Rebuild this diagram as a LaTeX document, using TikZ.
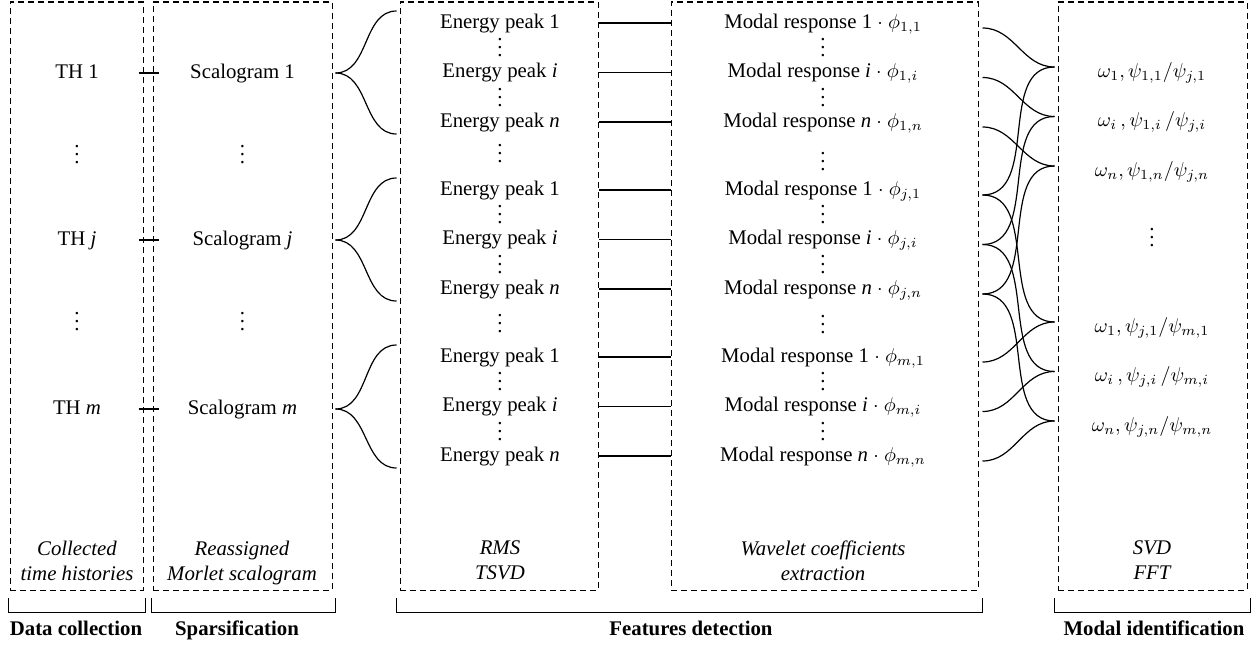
\documentclass[tikz,border=0pt]{standalone}
\usepackage{fontspec}
\setmainfont{Liberation Serif}
\usepackage{tikz}
\usetikzlibrary{positioning}
\newcommand{\rowdots}{\vbox{\baselineskip4pt\lineskiplimit0pt\hbox{.}\hbox{.}\hbox{.}}}
\tikzset{font=\fontsize{10.4}{12.5}\selectfont}
\tikzset{stage/.style={draw=black, dash pattern=on 3pt off 2pt, line width=0.5pt,
    inner sep=0pt, minimum height=294pt}}
\tikzset{entry/.style={text height=1.5ex, text depth=0.35ex}}
\tikzset{vdot/.style={inner sep=0pt}}
\tikzset{method/.style={align=center, anchor=north, font=\fontsize{10.4}{12.5}\selectfont\itshape}}
\tikzset{phase/.style={text height=1.5ex, text depth=0.35ex, font=\fontsize{10.4}{12.5}\selectfont\bfseries}}

\begin{document}
\begin{tikzpicture}[x=0.5pt, y=-0.5pt, on grid, node distance=24.75pt]
  \useasboundingbox (0,0) rectangle (1259,648);
  %Boxes
  \node[stage, minimum width=66.5pt] (b1) at (76.5,296) {};
  \node[stage, minimum width=89.5pt] (b2) at (242.5,296) {};
  \node[stage, minimum width=99pt] (b3) at (499,296) {};
  \node[stage, minimum width=153.5pt] (b4) at (824.5,296) {};
  \node[stage, minimum width=94.5pt] (b5) at (1152.5,296) {};
  %Nodes
  \node[entry] (th1) at (77,73) {TH 1};
  \node[vdot] (thd1) at (77,155) {\rowdots};
  \node[entry] (thj) at (77,240) {TH \textit{j}};
  \node[vdot] (thd2) at (77,322) {\rowdots};
  \node[entry] (thm) at (77,409) {TH \textit{m}};
  \node[entry] (sc1) [right=82.75pt of th1] {Scalogram 1};
  \node[vdot] (scd1) [right=82.75pt of thd1] {\rowdots};
  \node[entry] (scj) [right=82.75pt of thj] {Scalogram \textit{j}};
  \node[vdot] (scd2) [right=82.75pt of thd2] {\rowdots};
  \node[entry] (scm) [right=82.75pt of thm] {Scalogram \textit{m}};
  % energy peaks
  \node[entry] (ep11) at (500,23) {Energy peak 1};
  \node[entry] (ep1i) [below=of ep11] {Energy peak \textit{i}};
  \node[entry] (ep1n) [below=of ep1i] {Energy peak \textit{n}};
  \node[vdot] (epd1) at (500,154) {\rowdots};
  \node[entry] (epj1) at (500,190) {Energy peak 1};
  \node[entry] (epji) [below=of epj1] {Energy peak \textit{i}};
  \node[entry] (epjn) [below=of epji] {Energy peak \textit{n}};
  \node[vdot] (epd2) at (500,324) {\rowdots};
  \node[entry] (epm1) at (500,357) {Energy peak 1};
  \node[entry] (epmi) [below=of epm1] {Energy peak \textit{i}};
  \node[entry] (epmn) [below=of epmi] {Energy peak \textit{n}};
  \node[vdot] (e11) [below=12.375pt of ep11] {\rowdots};
  \node[vdot] (e12) [below=12.375pt of ep1i] {\rowdots};
  \node[vdot] (e21) [below=12.375pt of epj1] {\rowdots};
  \node[vdot] (e22) [below=12.375pt of epji] {\rowdots};
  \node[vdot] (e31) [below=12.375pt of epm1] {\rowdots};
  \node[vdot] (e32) [below=12.375pt of epmi] {\rowdots};
  % modal responses
  \node[entry] (mr11) [right=161.5pt of ep11] {Modal response 1 $\cdot$ $\phi_{1,1}$};
  \node[entry] (mr1i) [right=161.5pt of ep1i] {Modal response \textit{i} $\cdot$ $\phi_{1,i}$};
  \node[entry] (mr1n) [right=161.5pt of ep1n] {Modal response \textit{n} $\cdot$ $\phi_{1,n}$};
  \node[vdot] (mrd1) at (823,162) {\rowdots};
  \node[entry] (mrj1) [right=161.5pt of epj1] {Modal response 1 $\cdot$ $\phi_{j,1}$};
  \node[entry] (mrji) [right=161.5pt of epji] {Modal response \textit{i} $\cdot$ $\phi_{j,i}$};
  \node[entry] (mrjn) [right=161.5pt of epjn] {Modal response \textit{n} $\cdot$ $\phi_{j,n}$};
  \node[vdot] (mrd2) at (823,325) {\rowdots};
  \node[entry] (mrm1) [right=161.5pt of epm1] {Modal response 1 $\cdot$ $\phi_{m,1}$};
  \node[entry] (mrmi) [right=161.5pt of epmi] {Modal response \textit{i} $\cdot$ $\phi_{m,i}$};
  \node[entry] (mrmn) [right=161.5pt of epmn] {Modal response \textit{n} $\cdot$ $\phi_{m,n}$};
  \node[vdot] (m11) [right=161.5pt of e11] {\rowdots};
  \node[vdot] (m12) [right=161.5pt of e12] {\rowdots};
  \node[vdot] (m21) [right=161.5pt of e21] {\rowdots};
  \node[vdot] (m22) [right=161.5pt of e22] {\rowdots};
  \node[vdot] (m31) [right=161.5pt of e31] {\rowdots};
  \node[vdot] (m32) [right=161.5pt of e32] {\rowdots};
  % modal parameters
  \node[entry] (om11) at (1152,72) {$\omega_1, \psi_{1,1}/\psi_{j,1}$};
  \node[entry] (om1i) [below=of om11] {$\omega_i\,, \psi_{1,i}\,/\psi_{j,i}$};
  \node[entry] (om1n) [below=of om1i] {$\omega_n, \psi_{1,n}/\psi_{j,n}$};
  \node[vdot] (omd) at (1152,238) {\rowdots};
  \node[entry] (omj1) at (1152,327) {$\omega_1, \psi_{j,1}/\psi_{m,1}$};
  \node[entry] (omji) [below=of omj1] {$\omega_i\,, \psi_{j,i}\,/\psi_{m,i}$};
  \node[entry] (omjn) [below=of omji] {$\omega_n, \psi_{j,n}/\psi_{m,n}$};
  % methods
  \node[method] (cap1) at (77,534) {Collected\\time histories};
  \node[method] (cap2) at (242,534) {Reassigned\\Morlet scalogram};
  \node[method] (cap3) at (500,534) {RMS\\TSVD};
  \node[method] (cap4) at (823,534) {Wavelet coefficients\\extraction};
  \node[method] (cap5) at (1152,534) {SVD\\FFT};
  %Brackets
  \draw (8,598) |- (145,612) -- (145,598);
  \draw (151,598) |- (335,612) -- (335,598);
  \draw (396,598) |- (982,612) -- (982,598);
  \draw (1054,598) |- (1250,612) -- (1250,598);
  \node[phase] (ph1) at (76,630) {Data collection};
  \node[phase] (ph2) at (237,630) {Sparsification};
  \node[phase] (ph3) at (691,630) {Features detection};
  \node[phase] (ph4) at (1154,630) {Modal identification};
  % Edges
  \begin{scope}[every edge/.style={draw=black, line width=0.6pt}]
    \draw (b1.east |- th1) edge[shorten <=-2.5pt, shorten >=-3pt] (b2.west |- sc1);
    \draw (b1.east |- thj) edge[shorten <=-2.5pt, shorten >=-3pt] (b2.west |- scj);
    \draw (b1.east |- thm) edge[shorten <=-2.5pt, shorten >=-3pt] (b2.west |- scm);
    % braces
    \draw ([xshift=1.5pt]b2.east |- sc1) edge[out=0, in=180] ([xshift=-1.5pt, yshift=6pt]b3.west |- ep11);
    \draw ([xshift=1.5pt]b2.east |- sc1) edge[out=0, in=180] ([xshift=-1.5pt, yshift=-6pt]b3.west |- ep1n);
    \draw ([xshift=1.5pt]b2.east |- scj) edge[out=0, in=180] ([xshift=-1.5pt, yshift=6pt]b3.west |- epj1);
    \draw ([xshift=1.5pt]b2.east |- scj) edge[out=0, in=180] ([xshift=-1.5pt, yshift=-6pt]b3.west |- epjn);
    \draw ([xshift=1.5pt]b2.east |- scm) edge[out=0, in=180] ([xshift=-1.5pt, yshift=6pt]b3.west |- epm1);
    \draw ([xshift=1.5pt]b2.east |- scm) edge[out=0, in=180] ([xshift=-1.5pt, yshift=-6pt]b3.west |- epmn);
    % peaks to responses
    \draw (b3.east |- ep11) edge (b4.west |- mr11);
    \draw (b3.east |- ep1i) edge (b4.west |- mr1i);
    \draw (b3.east |- ep1n) edge (b4.west |- mr1n);
    \draw (b3.east |- epj1) edge (b4.west |- mrj1);
    \draw (b3.east |- epji) edge (b4.west |- mrji);
    \draw (b3.east |- epjn) edge (b4.west |- mrjn);
    \draw (b3.east |- epm1) edge (b4.west |- mrm1);
    \draw (b3.east |- epmi) edge (b4.west |- mrmi);
    \draw (b3.east |- epmn) edge (b4.west |- mrmn);
    % responses to modal parameters
    \draw ([xshift=2pt, yshift=-2.5pt]b4.east |- mr11) edge[out=0, in=180] ([xshift=-1.5pt, yshift=2.5pt]b5.west |- om11);
    \draw ([xshift=2pt, yshift=-2.5pt]b4.east |- mr1i) edge[out=0, in=180] ([xshift=-1.5pt, yshift=2.5pt]b5.west |- om1i);
    \draw ([xshift=2pt, yshift=-2.5pt]b4.east |- mr1n) edge[out=0, in=180] ([xshift=-1.5pt, yshift=2.5pt]b5.west |- om1n);
    \draw ([xshift=2pt, yshift=-2.5pt]b4.east |- mrj1) edge[out=0, in=180] ([xshift=-1.5pt, yshift=2.5pt]b5.west |- om11);
    \draw ([xshift=2pt, yshift=-2.5pt]b4.east |- mrji) edge[out=0, in=180] ([xshift=-1.5pt, yshift=2.5pt]b5.west |- om1i);
    \draw ([xshift=2pt, yshift=-2.5pt]b4.east |- mrjn) edge[out=0, in=180] ([xshift=-1.5pt, yshift=2.5pt]b5.west |- om1n);
    \draw ([xshift=2pt, yshift=-2.5pt]b4.east |- mrj1) edge[out=0, in=180] ([xshift=-1.5pt, yshift=2.5pt]b5.west |- omj1);
    \draw ([xshift=2pt, yshift=-2.5pt]b4.east |- mrji) edge[out=0, in=180] ([xshift=-1.5pt, yshift=2.5pt]b5.west |- omji);
    \draw ([xshift=2pt, yshift=-2.5pt]b4.east |- mrjn) edge[out=0, in=180] ([xshift=-1.5pt, yshift=2.5pt]b5.west |- omjn);
    \draw ([xshift=2pt, yshift=-2.5pt]b4.east |- mrm1) edge[out=0, in=180] ([xshift=-1.5pt, yshift=2.5pt]b5.west |- omj1);
    \draw ([xshift=2pt, yshift=-2.5pt]b4.east |- mrmi) edge[out=0, in=180] ([xshift=-1.5pt, yshift=2.5pt]b5.west |- omji);
    \draw ([xshift=2pt, yshift=-2.5pt]b4.east |- mrmn) edge[out=0, in=180] ([xshift=-1.5pt, yshift=2.5pt]b5.west |- omjn);
  \end{scope}
\end{tikzpicture}
\end{document}
